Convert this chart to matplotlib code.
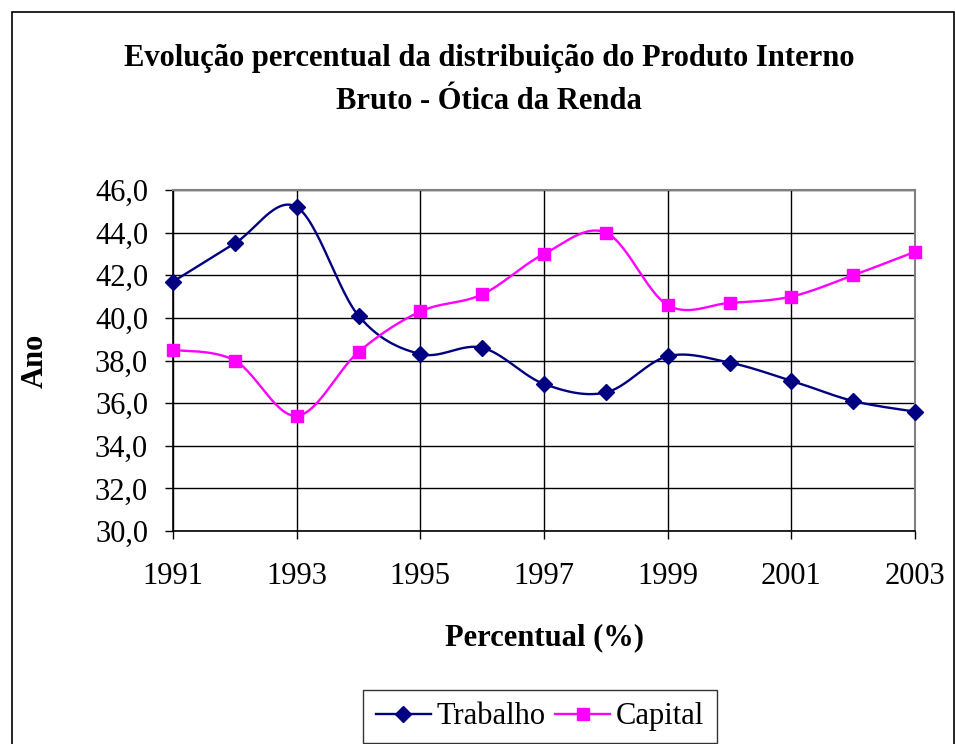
import numpy as np
import matplotlib
matplotlib.use("Agg")
import matplotlib.pyplot as plt
from matplotlib.patches import Rectangle

years = [1991, 1992, 1993, 1994, 1995, 1996, 1997, 1998, 1999, 2000, 2001, 2002, 2003]
trabalho = [41.7, 43.5, 45.2, 40.1, 38.3, 38.6, 36.9, 36.5, 38.2, 37.9, 37.05, 36.1, 35.6]
capital = [38.5, 38.0, 35.4, 38.4, 40.3, 41.1, 43.0, 44.0, 40.6, 40.7, 41.0, 42.0, 43.1]
xticks = [1991, 1993, 1995, 1997, 1999, 2001, 2003]
yticks = [30, 32, 34, 36, 38, 40, 42, 44, 46]

title = "Evolução percentual da distribuição do Produto Interno\nBruto - Ótica da Renda"
xlabel = "Percentual (%)"
ylabel = "Ano"

plt.rcParams['font.family'] = ['Liberation Serif', 'DejaVu Serif']


def smooth(xs, ys, n=30):
    """Catmull-Rom style Bezier smoothing (rendering only, like Excel smoothed lines)."""
    xs = np.asarray(xs, float)
    ys = np.asarray(ys, float)
    P = np.column_stack([xs, ys])
    out = []
    m = len(P)
    for i in range(m - 1):
        p0 = P[i - 1] if i > 0 else P[i]
        p1 = P[i]
        p2 = P[i + 1]
        p3 = P[i + 2] if i + 2 < m else P[i + 1]
        c1 = p1 + (p2 - p0) / 6.0
        c2 = p2 - (p3 - p1) / 6.0
        t = np.linspace(0, 1, n)[:, None]
        seg = ((1 - t) ** 3) * p1 + 3 * ((1 - t) ** 2) * t * c1 + 3 * (1 - t) * t ** 2 * c2 + t ** 3 * p2
        if i > 0:
            seg = seg[1:]
        out.append(seg)
    out = np.vstack(out)
    return out[:, 0], out[:, 1]


fig = plt.figure(figsize=(9.55, 7.44), dpi=100)
fig.patch.set_facecolor('white')

# outer chart border
fig.add_artist(Rectangle((12 / 955, -0.01), (955 - 12 - 1) / 955, 1 - 12 / 744 + 0.01,
                         transform=fig.transFigure, fill=False, edgecolor='black', lw=1.2))

ax = fig.add_axes([173 / 955, 1 - 531 / 744, (915 - 173) / 955, (531 - 190) / 744])

navy = '#000080'
magenta = '#FF00FF'
FS = 22

sx, sy = smooth(years, trabalho)
ax.plot(sx, sy, color=navy, lw=1.7, zorder=3, clip_on=False)
ax.plot(years, trabalho, linestyle='none', marker='D', ms=8, color=navy, zorder=4, clip_on=False)
cx, cy = smooth(years, capital)
ax.plot(cx, cy, color=magenta, lw=1.7, zorder=3, clip_on=False)
ax.plot(years, capital, linestyle='none', marker='s', ms=9, color=magenta, zorder=4, clip_on=False)

ax.set_xlim(1991, 2003)
ax.set_ylim(30, 46)
ax.set_xticks(xticks)
ax.set_xticklabels([str(x) for x in xticks], fontsize=FS)
ax.set_yticks(yticks)
ax.set_yticklabels([f"{v:.1f}".replace('.', ',') for v in yticks], fontsize=FS)
ax.grid(True, color='black', lw=1.0)
ax.set_axisbelow(True)
ax.tick_params(axis='y', direction='out', length=6, width=1, color='black', pad=12)
ax.tick_params(axis='x', direction='out', length=6, width=1, color='black', pad=16)
for s in ['top', 'right']:
    ax.spines[s].set_color('#808080')
    ax.spines[s].set_linewidth(1.5)
for s in ['left', 'bottom']:
    ax.spines[s].set_color('black')
    ax.spines[s].set_linewidth(1.2)

ax.set_xlabel(xlabel, fontsize=FS, fontweight='bold')
ax.xaxis.set_label_coords(0.5 * (173 + 915) / 955, 1 - 638 / 744, transform=fig.transFigure)
ax.xaxis.label.set_va('center')
ax.set_ylabel(ylabel, fontsize=FS, fontweight='bold')
ax.yaxis.set_label_coords(35 / 955, 1 - 361 / 744, transform=fig.transFigure)
ax.yaxis.label.set_va('center')

fig.text(489 / 955, 1 - 80 / 744, title, ha='center', va='center', fontsize=FS,
         fontweight='bold', linespacing=1.65)

h1, = ax.plot([], [], color=navy, marker='D', ms=8, lw=1.7, label='Trabalho')
h2, = ax.plot([], [], color=magenta, marker='s', ms=9, lw=1.7, label='Capital')
leg = fig.legend(handles=[h1, h2], loc='upper center', bbox_to_anchor=(540 / 955, 1 - 690 / 744),
                 ncol=2, fontsize=FS, frameon=True, fancybox=False, handlelength=1.8,
                 columnspacing=0.3, handletextpad=0.2, borderpad=0.4, borderaxespad=0)
leg.get_frame().set_edgecolor('black')
leg.get_frame().set_linewidth(1.0)

fig.savefig('out.png', dpi=100)
